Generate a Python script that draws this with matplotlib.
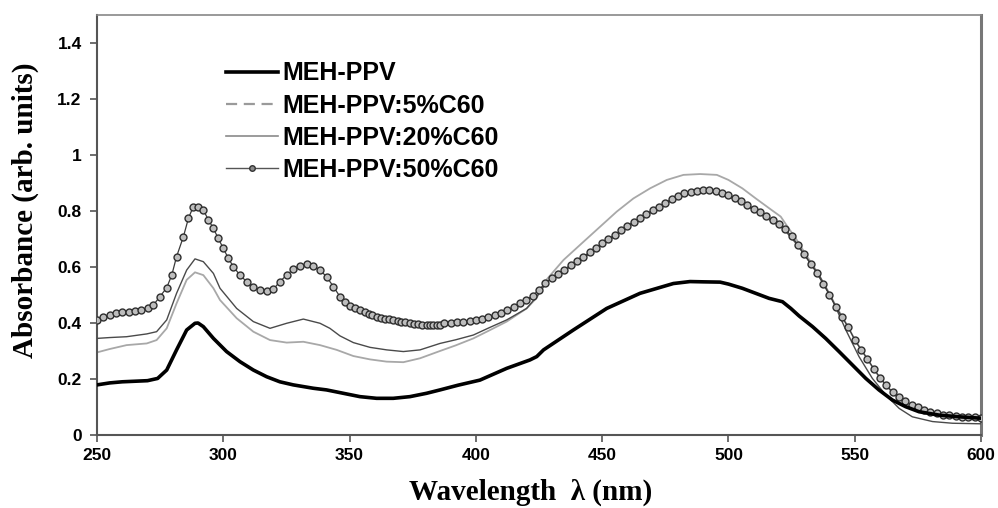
import numpy as np
import matplotlib
matplotlib.use('Agg')
import matplotlib.pyplot as plt
from matplotlib.lines import Line2D

# ------- data (wavelength nm, absorbance)
wl_pure = [250, 255, 260, 265, 270, 274, 277.6, 281.5, 285.5, 288.8, 290, 292.1, 296.1,
           301.3, 306.6, 311.9, 317.2, 322.4, 327.7, 335.6, 340.9, 347.5, 354.1, 360.7,
           367.3, 373.9, 380.5, 385.8, 393, 401.6, 412.2, 421.4, 424.1, 426.8, 438.6,
           451.8, 465, 478.2, 484.8, 490, 496.7, 500, 505.5, 510.8, 516.1, 521.4, 524.7,
           528, 533.3, 538.5, 543.8, 549.1, 554.4, 559.6, 564.9, 570.2, 575.5, 583.4,
           591.3, 600]
abs_pure = [0.179, 0.186, 0.190, 0.192, 0.194, 0.202, 0.232, 0.304, 0.375, 0.399, 0.400,
            0.387, 0.345, 0.298, 0.262, 0.232, 0.208, 0.190, 0.179, 0.167, 0.161, 0.149,
            0.137, 0.131, 0.131, 0.137, 0.149, 0.161, 0.178, 0.196, 0.238, 0.268, 0.280,
            0.304, 0.375, 0.452, 0.506, 0.541, 0.548, 0.547, 0.546, 0.539, 0.524, 0.506,
            0.488, 0.476, 0.452, 0.425, 0.387, 0.345, 0.298, 0.250, 0.202, 0.161, 0.125,
            0.101, 0.083, 0.071, 0.065, 0.060]

wl_5 = [250, 255, 261.7, 269.7, 273.6, 277.6, 281.5, 285.5, 288.8, 292.1, 296.1, 298.7,
        305.3, 311.9, 318.5, 325.1, 331.7, 338.3, 344.9, 351.5, 358.1, 364.7, 371.3,
        377.9, 385.8, 392, 399, 405, 412.2, 420.1, 424.1, 428, 434.7, 442.6, 449.2,
        455.8, 462.4, 469, 475.6, 482.2, 488.8, 495.4, 500, 505.5, 510.8, 516.1, 520.7,
        523.4, 526.7, 530.6, 534.6, 538.5, 542.5, 546.5, 550.4, 554.4, 558.3, 562.3,
        566.2, 570.2, 574.2, 579.4, 586, 594, 600]
abs_5 = [0.295, 0.307, 0.321, 0.327, 0.339, 0.381, 0.470, 0.554, 0.581, 0.571, 0.524, 0.482,
         0.417, 0.369, 0.339, 0.330, 0.333, 0.321, 0.304, 0.282, 0.270, 0.262, 0.260,
         0.274, 0.300, 0.320, 0.345, 0.372, 0.405, 0.452, 0.490, 0.555, 0.625, 0.690,
         0.744, 0.798, 0.845, 0.881, 0.911, 0.929, 0.932, 0.929, 0.911, 0.881, 0.845,
         0.810, 0.780, 0.744, 0.702, 0.645, 0.590, 0.530, 0.462, 0.400, 0.335, 0.280,
         0.225, 0.178, 0.140, 0.112, 0.092, 0.074, 0.062, 0.056, 0.054]

wl_20 = [250, 255, 261.7, 269.7, 273.6, 277.6, 281.5, 285.5, 288.8, 292.1, 296.1, 298.7,
         305.3, 311.9, 318.5, 325.1, 331.7, 338.3, 342.2, 346.2, 351.5, 358.1, 364.7,
         371.3, 377.9, 385.8, 392, 399, 405, 412.2, 420.1, 424.1, 428, 434.7, 442.6,
         449.2, 455.8, 462.4, 469, 475.6, 482.2, 488.8, 495.4, 500, 505.5, 510.8, 516.1,
         520.7, 523.4, 526.7, 530.6, 535.9, 541.2, 546.5, 551.7, 557, 562.3, 567.6,
         572.8, 580.8, 588.7, 600]
abs_20 = [0.345, 0.348, 0.351, 0.361, 0.369, 0.411, 0.506, 0.589, 0.629, 0.619, 0.577, 0.524,
          0.452, 0.405, 0.381, 0.399, 0.414, 0.399, 0.381, 0.354, 0.330, 0.313, 0.304,
          0.298, 0.304, 0.327, 0.340, 0.357, 0.382, 0.411, 0.452, 0.494, 0.545, 0.585,
          0.632, 0.674, 0.715, 0.757, 0.793, 0.828, 0.858, 0.870, 0.868, 0.852, 0.828,
          0.799, 0.769, 0.745, 0.720, 0.685, 0.637, 0.571, 0.482, 0.375, 0.280, 0.202,
          0.143, 0.095, 0.065, 0.048, 0.042, 0.040]

wl_50 = [250, 252.5, 255, 257.5, 260, 262.5, 265, 267.5, 270, 272.3, 274.9, 277.6, 279.6,
         281.5, 284.2, 286.2, 288.1,
         290.1, 292.1, 294.1, 296.1, 298.0, 300.0, 302.0, 304.0, 306.6, 309.2, 311.9,
         314.5, 317.2, 319.8, 322.4, 325.1, 327.7, 330.4, 333.0, 335.6, 338.3, 340.9,
         343.6, 346.2, 348.2, 350.2, 352.2, 354.1, 356, 357.5, 359, 360.7, 362.5, 364,
         365.5, 367.3, 369, 370.5, 372, 373.9, 375.5, 377, 378.8, 380.5, 382, 383, 384.5,
         385.8, 387.5, 390, 392.5, 395, 397.5, 400, 402.5, 405, 407.5, 410, 412.5,
         415, 417.5, 420, 422.5, 425, 427.5, 430, 432.5, 435, 437.5, 440, 442.5, 445,
         447.5, 450, 452.5, 455, 457.5, 460, 462.5, 465, 467.5, 470, 472.5, 475, 477.5,
         480, 482.5, 485, 487.5, 490, 492.5, 495, 497.5, 500, 502.5, 505, 507.5, 510,
         512.5, 515, 517.5, 520, 522.5, 525, 527.5, 530, 532.5, 535, 537.5, 540, 542.5,
         545, 547.5, 550, 552.5, 555, 557.5, 560, 562.5, 565, 567.5, 570, 572.5, 575,
         577.5, 580, 582.5, 585, 587.5, 590, 592.5, 595, 597.5, 600]
abs_50 = [0.411, 0.420, 0.429, 0.434, 0.438, 0.441, 0.444, 0.447, 0.452, 0.464, 0.494,
          0.526, 0.571, 0.637, 0.708, 0.774, 0.815,
          0.815, 0.804, 0.768, 0.738, 0.702, 0.667, 0.631, 0.601, 0.571, 0.548, 0.530,
          0.518, 0.514, 0.520, 0.548, 0.571, 0.592, 0.605, 0.609, 0.604, 0.589, 0.565,
          0.530, 0.494, 0.476, 0.462, 0.453, 0.446, 0.438, 0.432, 0.427, 0.423, 0.419,
          0.416, 0.413, 0.411, 0.408, 0.405, 0.402, 0.399, 0.397, 0.395, 0.394, 0.393,
          0.393, 0.393, 0.393, 0.394, 0.399, 0.400, 0.402, 0.404, 0.407, 0.410, 0.415,
          0.421, 0.428, 0.437, 0.447, 0.458, 0.470, 0.482, 0.498, 0.518, 0.543, 0.560,
          0.576, 0.591, 0.607, 0.622, 0.637, 0.652, 0.668, 0.684, 0.700, 0.715, 0.731,
          0.747, 0.762, 0.776, 0.790, 0.803, 0.816, 0.830, 0.842, 0.853, 0.863, 0.869,
          0.873, 0.875, 0.875, 0.873, 0.866, 0.857, 0.846, 0.835, 0.822, 0.808, 0.795,
          0.781, 0.767, 0.754, 0.735, 0.710, 0.680, 0.645, 0.612, 0.578, 0.540, 0.500,
          0.458, 0.421, 0.384, 0.340, 0.305, 0.272, 0.237, 0.205, 0.177, 0.153, 0.134,
          0.120, 0.108, 0.099, 0.090, 0.083, 0.078, 0.073, 0.070, 0.068, 0.066, 0.064,
          0.063, 0.062]

labels = ['MEH-PPV', 'MEH-PPV:5%C60', 'MEH-PPV:20%C60', 'MEH-PPV:50%C60']
x_ticks = [250, 300, 350, 400, 450, 500, 550, 600]
y_ticks = [0, 0.2, 0.4, 0.6, 0.8, 1.0, 1.2, 1.4]
y_ticklabels = ['0', '0.2', '0.4', '0.6', '0.8', '1', '1.2', '1.4']

plt.rcParams['font.family'] = ['Liberation Sans', 'DejaVu Sans']

fig = plt.figure(figsize=(9.98, 5.08), dpi=100)
ax = fig.add_axes([97 / 998, 73 / 508, 884 / 998, 420 / 508])

ax.plot(wl_5, abs_5, color='#a8a8a8', lw=1.3, zorder=2)
ax.plot(wl_20, abs_20, color='#4a4a4a', lw=1.0, zorder=3)
ax.plot(wl_50, abs_50, color='#3a3a3a', lw=0.9, marker='o', markersize=5,
        markerfacecolor='#bdbdbd', markeredgecolor='#2e2e2e', markeredgewidth=1.0, zorder=4)
ax.plot(wl_pure, abs_pure, color='black', lw=2.6, zorder=5)

ax.set_xlim(250, 600)
ax.set_ylim(0, 1.5)
ax.set_xticks(x_ticks)
ax.set_yticks(y_ticks)
ax.set_yticklabels(y_ticklabels)
ax.tick_params(direction='out', length=5, width=1.2, color='#555555', labelsize=12.5)
ax.tick_params(axis='y', pad=6)
ax.tick_params(axis='x', pad=4)
for lab in ax.get_xticklabels() + ax.get_yticklabels():
    lab.set_fontweight('bold')

for side in ['left', 'bottom']:
    ax.spines[side].set_color('#555555')
    ax.spines[side].set_linewidth(1.5)
ax.spines['top'].set_color('#888888')
ax.spines['top'].set_linewidth(1.2)
ax.spines['right'].set_color('#777777')
ax.spines['right'].set_linewidth(2.2)

ax.set_xlabel('Wavelength  \u03bb (nm)', family=['Liberation Serif', 'DejaVu Serif'],
              fontweight='bold', fontsize=21)
ax.set_ylabel('Absorbance (arb. units)', family=['Liberation Serif', 'DejaVu Serif'],
              fontweight='bold', fontsize=21)
ax.xaxis.set_label_coords(0.491, -0.105)
ax.yaxis.set_label_coords(-0.066, 0.536)

handles = [
    Line2D([], [], color='black', lw=2.6),
    Line2D([], [], color='#9a9a9a', lw=1.6, dashes=(5, 3)),
    Line2D([], [], color='#8a8a8a', lw=1.2),
    Line2D([], [], color='#555555', lw=1.0, marker='o', markersize=4,
           markerfacecolor='#8a8a8a', markeredgecolor='#333333'),
]
leg = ax.legend(handles, labels, loc='upper left', bbox_to_anchor=(0.12, 0.943),
                frameon=False, handlelength=2.1, handletextpad=0.16, labelspacing=0.33,
                prop={'family': ['Liberation Sans', 'DejaVu Sans'], 'weight': 'bold', 'size': 18})

fig.savefig('out.png', dpi=100)
